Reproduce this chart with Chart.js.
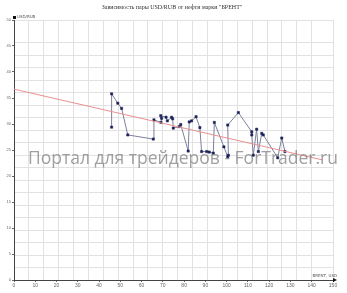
<!DOCTYPE html>
<html>
<head>
<meta charset="utf-8">
<script src="https://cdn.jsdelivr.net/npm/chart.js@4.4.1/dist/chart.umd.min.js"></script>
<style>
    body { margin: 0; background: #fff; }
    #wrap { width: 347px; height: 293px; }
</style>
</head>
<body>
<div id="wrap"><canvas id="chart"></canvas></div>
<script>
// Brent price (USD) vs USD/RUB rate, in drawing order
const brent = [45.9, 45.9, 48.8, 50.6, 53.5, 65.5, 65.8, 69.1, 69.4, 69.0, 71.5, 72.1, 74.1, 74.6,
    74.9, 77.7, 78.4, 81.9, 82.4, 83.5, 85.6, 87.4, 88.2, 90.6, 91.8, 93.7, 94.2, 98.7, 100.5,
    100.8, 100.5, 105.5, 111.8, 111.8, 112.5, 114.1, 114.9, 116.5, 117.2, 124.0, 125.9, 127.4];
const usdrub = [29.4, 35.8, 34.0, 33.0, 27.9, 27.1, 30.8, 30.3, 31.1, 31.6, 31.3, 30.6, 31.3, 31.0,
    29.2, 29.5, 29.9, 24.8, 30.4, 30.6, 31.4, 29.3, 24.7, 24.7, 24.6, 24.4, 30.3, 25.6, 23.7,
    24.0, 29.8, 32.2, 28.5, 27.9, 24.0, 29.0, 24.7, 28.2, 27.9, 23.5, 27.3, 24.7];

// linear trend line ends
const trendX = [0, 145];
const trendY = [36.7, 23.1];

const titleText = 'Зависимость пары USD/RUB от нефти марки "БРЕНТ"';
const yName = 'USD/RUB';
const xName = 'BRENT, USD';
const watermark = 'Портал для трейдеров - ForTrader.ru';

const decor = {
    id: 'decor',
    afterDraw(chart) {
        const ctx = chart.ctx;
        const a = chart.chartArea;
        ctx.save();
        ctx.fillStyle = '#333';
        ctx.font = '6px "Liberation Serif"';
        ctx.textAlign = 'center';
        ctx.textBaseline = 'middle';
        ctx.fillText(titleText, 172, 7);

        // axis arrows
        ctx.fillStyle = '#111';
        ctx.fillRect(a.left - 1, a.top - 4, 3, 3);
        ctx.beginPath();
        ctx.moveTo(a.right + 4, a.bottom);
        ctx.lineTo(a.right, a.bottom - 2);
        ctx.lineTo(a.right, a.bottom + 2);
        ctx.closePath();
        ctx.fill();

        ctx.fillStyle = '#555';
        ctx.font = '4px "DejaVu Sans"';
        ctx.textAlign = 'left';
        ctx.fillText(yName, a.left + 3, a.top - 3);
        ctx.textAlign = 'right';
        ctx.fillText(xName, a.right + 4, a.bottom - 4);

        // watermark
        ctx.font = '17px "Open Sans"';
        const w = ctx.measureText(watermark).width;
        const size = 17 * 310 / w;
        ctx.font = size.toFixed(1) + 'px "Open Sans"';
        ctx.fillStyle = 'rgba(120, 120, 120, 0.7)';
        ctx.textAlign = 'left';
        ctx.textBaseline = 'alphabetic';
        ctx.fillText(watermark, 28, 164);
        ctx.restore();
    }
};

new Chart(document.getElementById('chart'), {
    type: 'scatter',
    data: {
        datasets: [
            {
                label: 'trend',
                data: trendX.map((x, i) => ({ x: x, y: trendY[i] })),
                showLine: true,
                borderColor: '#e89090',
                borderWidth: 1,
                pointRadius: 0
            },
            {
                label: 'USD/RUB',
                data: brent.map((x, i) => ({ x: x, y: usdrub[i] })),
                showLine: true,
                borderColor: '#7c809c',
                borderWidth: 1,
                pointStyle: 'rect',
                pointRadius: 1.6,
                pointBackgroundColor: '#1b2058',
                pointBorderColor: '#1b2058',
                pointBorderWidth: 0.5
            }
        ]
    },
    options: {
        responsive: true,
        maintainAspectRatio: false,
        animation: false,
        layout: { padding: { left: 0, right: 14, top: 20, bottom: 0 } },
        plugins: {
            legend: { display: false },
            tooltip: { enabled: false }
        },
        scales: {
            x: {
                type: 'linear', position: 'bottom', min: 0, max: 150,
                ticks: { stepSize: 10, color: '#666', font: { size: 5 }, padding: 1 },
                grid: { drawOnChartArea: false, tickLength: 2, color: '#666' },
                border: { color: '#444', width: 1 },
                afterFit: s => { s.height = 13; }
            },
            xg: {
                type: 'linear', position: 'bottom', min: 0, max: 150,
                ticks: { stepSize: 7, display: false },
                grid: { color: '#e2e2e2', drawTicks: false },
                border: { display: false },
                afterFit: s => { s.height = 0; }
            },
            y: {
                type: 'linear', position: 'left', min: 0, max: 50,
                ticks: { stepSize: 5, color: '#666', font: { size: 4 }, padding: 1 },
                grid: { drawOnChartArea: false, tickLength: 2, color: '#666' },
                border: { color: '#444', width: 1 },
                afterFit: s => { s.width = 14; }
            },
            yg: {
                type: 'linear', position: 'left', min: 0, max: 50,
                ticks: { stepSize: 2.4, display: false },
                grid: { color: '#e2e2e2', drawTicks: false },
                border: { display: false },
                afterFit: s => { s.width = 0; }
            }
        }
    },
    plugins: [decor]
});
</script>
</body>
</html>
